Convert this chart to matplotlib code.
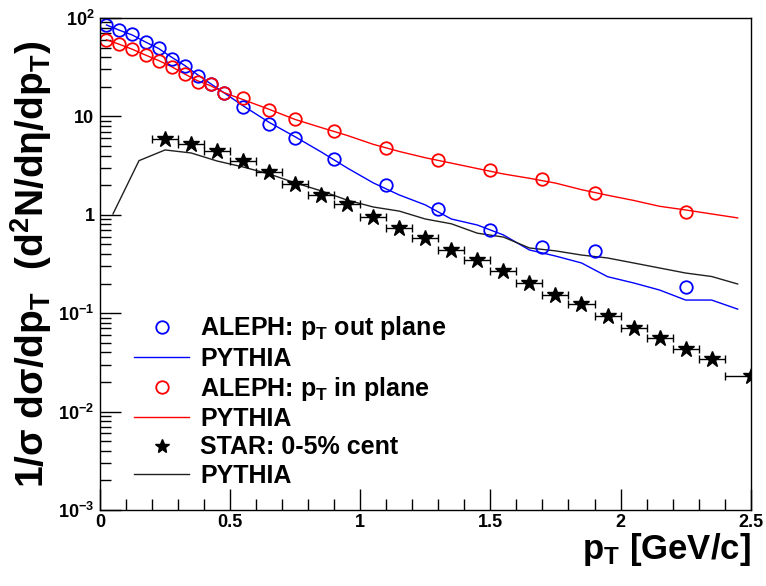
import matplotlib
matplotlib.use('Agg')
import matplotlib.pyplot as plt
from matplotlib.lines import Line2D
from matplotlib.ticker import FixedLocator, LogLocator, MultipleLocator, NullFormatter
import numpy as np

plt.rcParams['font.family'] = ['Liberation Sans', 'DejaVu Sans']
plt.rcParams['font.weight'] = 'bold'
plt.rcParams['axes.labelweight'] = 'bold'
plt.rcParams['mathtext.fontset'] = 'custom'
plt.rcParams['mathtext.rm'] = 'Liberation Sans:bold'
plt.rcParams['mathtext.it'] = 'Liberation Sans:bold'
plt.rcParams['mathtext.bf'] = 'Liberation Sans:bold'
plt.rcParams['mathtext.sf'] = 'Liberation Sans:bold'
plt.rcParams['mathtext.default'] = 'rm'

# ALEPH data points
aleph_x = [0.025, 0.075, 0.125, 0.175, 0.225, 0.275, 0.325, 0.375, 0.425, 0.475,
           0.55, 0.65, 0.75, 0.9, 1.1, 1.3, 1.5, 1.7, 1.9, 2.25]
aleph_out = [84.9, 75.5, 68.7, 56.6, 49.5, 38.5, 32.7, 25.9, 21.3, 17.4,
             12.4, 8.4, 6.1, 3.69, 2.03, 1.15, 0.70, 0.475, 0.432, 0.183]
aleph_in = [59.7, 54.4, 48.4, 42.1, 36.8, 32.0, 26.8, 22.5, 21.3, 17.2,
            15.5, 11.5, 9.35, 7.16, 4.81, 3.61, 2.83, 2.30, 1.65, 1.06]

# PYTHIA curves for ALEPH
py_x = [0.025, 0.075, 0.125, 0.175, 0.225, 0.275, 0.325, 0.375, 0.425, 0.475,
        0.55, 0.65, 0.75, 0.85, 0.95, 1.05, 1.15, 1.25, 1.35, 1.45,
        1.55, 1.65, 1.75, 1.85, 1.95, 2.05, 2.15, 2.25, 2.35, 2.45]
py_out = [85, 75, 67, 57, 49, 40, 33, 26.5, 21.5, 17.5,
          12.8, 8.7, 6.2, 4.35, 2.99, 2.11, 1.59, 1.26, 0.906, 0.787,
          0.624, 0.439, 0.381, 0.324, 0.235, 0.203, 0.172, 0.136, 0.136, 0.110]
py_in = [60, 54, 48, 42, 37, 32, 27, 23, 20.5, 17.5,
         14.8, 11.8, 9.3, 7.7, 6.4, 5.2, 4.4, 3.8, 3.35, 2.95,
         2.6, 2.35, 2.1, 1.8, 1.58, 1.4, 1.22, 1.12, 1.02, 0.93]

# STAR data
star_x = [0.25, 0.35, 0.45, 0.55, 0.65, 0.75, 0.85, 0.95, 1.05, 1.15, 1.25, 1.35,
          1.45, 1.55, 1.65, 1.75, 1.85, 1.95, 2.05, 2.15, 2.25, 2.35, 2.5]
star_y = [5.85, 5.20, 4.45, 3.52, 2.70, 2.04, 1.59, 1.28, 0.957, 0.729, 0.577, 0.439,
          0.347, 0.270, 0.201, 0.153, 0.123, 0.0937, 0.0713, 0.0564, 0.0430, 0.034, 0.0230]
star_xerr = [0.05] * 22 + [0.1]

# PYTHIA curve for STAR
pys_x = [0.05, 0.15, 0.25, 0.35, 0.45, 0.55, 0.65, 0.75, 0.85, 0.95, 1.05, 1.15, 1.25,
         1.35, 1.45, 1.55, 1.65, 1.75, 1.85, 1.95, 2.05, 2.15, 2.25, 2.35, 2.45]
pys_y = [1.02, 3.55, 4.56, 4.25, 3.52, 3.06, 2.60, 2.11, 1.75, 1.41, 1.20, 1.09, 0.906,
         0.81, 0.65, 0.594, 0.46, 0.43, 0.39, 0.364, 0.324, 0.288, 0.256, 0.236, 0.198]

fig = plt.figure(figsize=(7.66, 5.86), dpi=100)
ax = fig.add_axes([0.1305, 0.1297, 0.8495, 0.8396])

blue = '#0000ff'
red = '#ff0000'

ax.plot(py_x, py_out, color=blue, lw=1.0)
ax.plot(py_x, py_in, color=red, lw=1.0)
ax.plot(pys_x, pys_y, color='#202020', lw=1.0)
ax.plot(aleph_x, aleph_out, ls='none', marker='o', ms=9, mfc='none', mec=blue, mew=1.3)
ax.plot(aleph_x, aleph_in, ls='none', marker='o', ms=9, mfc='none', mec=red, mew=1.3)
ax.errorbar(star_x, star_y, xerr=star_xerr, fmt='*', color='black', ms=12,
            elinewidth=1.0, capsize=3, capthick=1.0, clip_on=True)

ax.set_yscale('log')
ax.set_xlim(0, 2.5)
ax.set_ylim(1e-3, 1e2)

ax.xaxis.set_major_locator(FixedLocator([0, 0.5, 1, 1.5, 2, 2.5]))
ax.set_xticklabels(['0', '0.5', '1', '1.5', '2', '2.5'])
ax.xaxis.set_minor_locator(MultipleLocator(0.1))
ax.yaxis.set_major_locator(FixedLocator([1e-3, 1e-2, 1e-1, 1, 10, 100]))
ax.set_yticklabels([r'$10^{-3}$', r'$10^{-2}$', r'$10^{-1}$', '1', '10', r'$10^{2}$'])
ax.yaxis.set_minor_locator(LogLocator(base=10, subs=np.arange(2, 10)))
ax.yaxis.set_minor_formatter(NullFormatter())

ax.tick_params(which='both', direction='in', top=False, right=False, labelsize=13)
ax.tick_params(which='major', length=15, width=1.0)
ax.tick_params(which='minor', length=8, width=1.0)
ax.tick_params(axis='x', pad=3)
ax.tick_params(axis='y', pad=4)
for sp in ax.spines.values():
    sp.set_linewidth(1.0)

ax.set_xlabel(r'p$_\mathrm{T}$ [GeV/c]', fontsize=25, fontweight='bold', loc='right', labelpad=0)
ax.set_ylabel(r'1/σ dσ/dp$_\mathrm{T}$  (d$^2$N/dη/dp$_\mathrm{T}$)', fontsize=28,
              fontweight='bold', labelpad=3)

handles = [
    Line2D([], [], ls='none', marker='o', ms=9, mfc='none', mec=blue, mew=1.3),
    Line2D([], [], color=blue, lw=1.0),
    Line2D([], [], ls='none', marker='o', ms=9, mfc='none', mec=red, mew=1.3),
    Line2D([], [], color=red, lw=1.0),
    Line2D([], [], ls='none', marker='*', ms=10, color='black'),
    Line2D([], [], color='#202020', lw=1.0),
]
labels = [r'ALEPH: p$_\mathrm{T}$ out plane', 'PYTHIA', r'ALEPH: p$_\mathrm{T}$ in plane',
          'PYTHIA', 'STAR: 0-5% cent', 'PYTHIA']
ax.legend(handles, labels, loc='upper left', bbox_to_anchor=(0.037, 0.418),
          frameon=False, prop={'size': 18, 'weight': 'bold'}, handlelength=2.2,
          handletextpad=0.45, labelspacing=0.17, borderaxespad=0)

fig.savefig('out.png', dpi=100)
